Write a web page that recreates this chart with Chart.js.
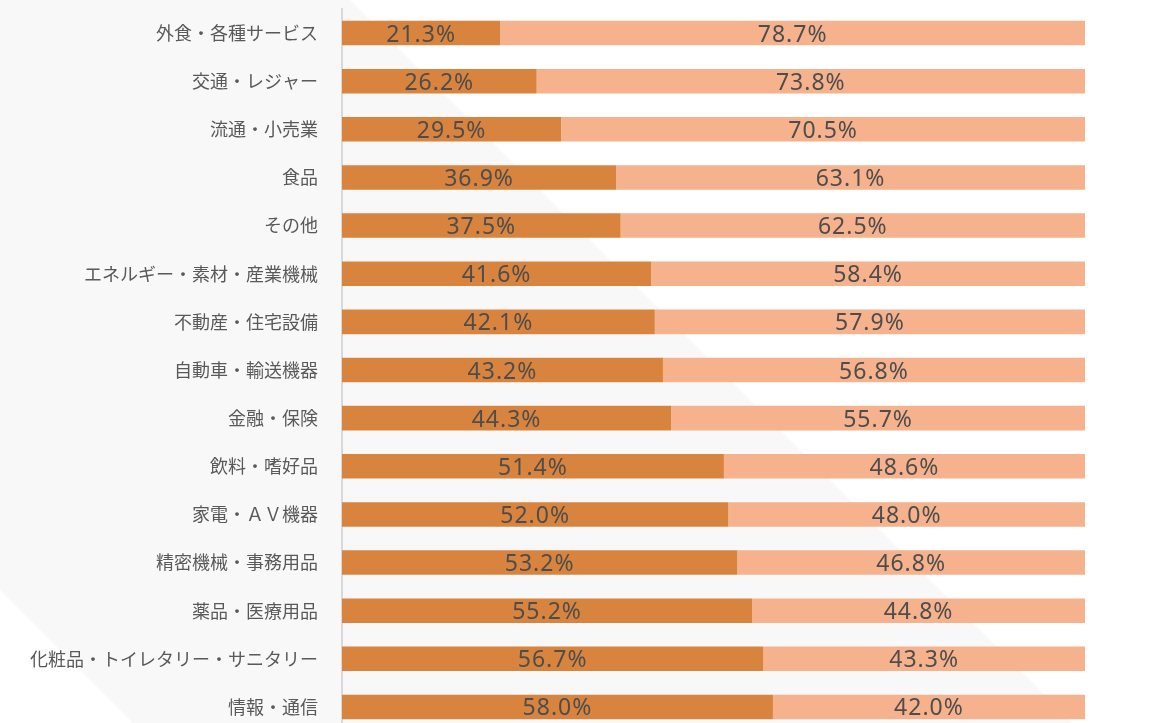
<!DOCTYPE html>
<html lang="ja">
<head>
<meta charset="utf-8">
<script src="https://cdn.jsdelivr.net/npm/chart.js@4/dist/chart.umd.min.js"></script>
<style>
  html, body { margin: 0; padding: 0; background: #ffffff; overflow: hidden; }
  #wrap { width: 1156px; height: 740px; }
</style>
</head>
<body>
<div id="wrap"><canvas id="myChart"></canvas></div>
<script>
// 業種ごとの割合（%）
const categories = [
    '外食・各種サービス', '交通・レジャー', '流通・小売業', '食品', 'その他',
    'エネルギー・素材・産業機械', '不動産・住宅設備', '自動車・輸送機器', '金融・保険',
    '飲料・嗜好品', '家電・ＡＶ機器', '精密機械・事務用品', '薬品・医療用品',
    '化粧品・トイレタリー・サニタリー', '情報・通信'
];
const shareA = [21.3, 26.2, 29.5, 36.9, 37.5, 41.6, 42.1, 43.2, 44.3, 51.4, 52.0, 53.2, 55.2, 56.7, 58.0];
const shareB = [78.7, 73.8, 70.5, 63.1, 62.5, 58.4, 57.9, 56.8, 55.7, 48.6, 48.0, 46.8, 44.8, 43.3, 42.0];

// 背景の斜めの帯
const bgBand = {
    id: 'bgBand',
    beforeDraw(chart) {
        const ctx = chart.ctx;
        const h = chart.height;
        ctx.save();
        ctx.fillStyle = '#f8f8f8';
        ctx.beginPath();
        ctx.moveTo(0, 0);
        ctx.lineTo(350, 0);
        ctx.lineTo(350 + h, h);
        ctx.lineTo(h - 590, h);
        ctx.lineTo(0, 590);
        ctx.closePath();
        ctx.fill();
        ctx.restore();
    }
};

// バーの中央に値を描く
const barLabels = {
    id: 'barLabels',
    afterDatasetsDraw(chart) {
        const ctx = chart.ctx;
        ctx.save();
        ctx.font = '23px "Noto Sans", sans-serif';
        ctx.letterSpacing = '1px';
        ctx.fillStyle = '#4d4d4d';
        ctx.textAlign = 'center';
        ctx.textBaseline = 'middle';
        chart.data.datasets.forEach((ds, i) => {
            chart.getDatasetMeta(i).data.forEach((bar, j) => {
                const x = (bar.x + bar.base) / 2;
                ctx.fillText(ds.data[j].toFixed(1) + '%', x, bar.y + 2);
            });
        });
        ctx.restore();
    }
};

let ctxEl = document.getElementById('myChart');
new Chart(ctxEl, {
    type: 'bar',
    data: {
        labels: categories,
        datasets: [
            {
                label: 'A',
                data: shareA,
                backgroundColor: '#d8843e',
                barPercentage: 0.51,
                categoryPercentage: 1
            },
            {
                label: 'B',
                data: shareB,
                backgroundColor: '#f6b28c',
                barPercentage: 0.51,
                categoryPercentage: 1
            }
        ]
    },
    options: {
        indexAxis: 'y',
        responsive: true,
        maintainAspectRatio: false,
        animation: false,
        layout: { padding: { top: 9, bottom: 9, right: 71, left: 0 } },
        plugins: {
            legend: { display: false },
            tooltip: { enabled: false }
        },
        scales: {
            x: {
                stacked: true,
                min: 0,
                max: 100,
                display: false
            },
            y: {
                stacked: true,
                grid: { display: false },
                border: { display: true, color: '#d9d9d9', width: 2 },
                ticks: {
                    color: '#595959',
                    padding: 16,
                    font: { family: '"Noto Sans CJK JP", sans-serif', size: 18 }
                },
                afterFit(scale) {
                    scale.width = 342;
                    // 縦方向の余白はラベル分を取らない
                    scale.paddingTop = 0;
                    scale.paddingBottom = 0;
                }
            }
        }
    },
    plugins: [bgBand, barLabels]
});
</script>
</body>
</html>
